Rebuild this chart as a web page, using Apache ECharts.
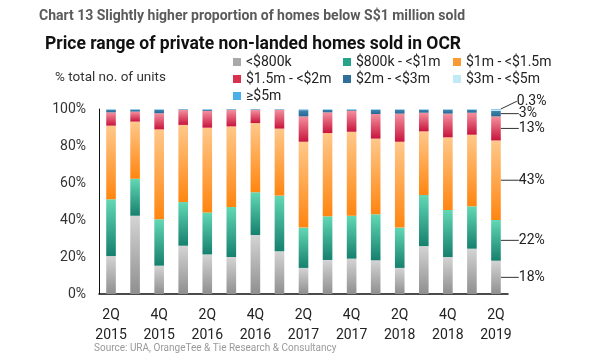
<!DOCTYPE html>
<html><head><meta charset="utf-8">
<script src="https://cdn.jsdelivr.net/npm/echarts@6/dist/echarts.min.js"></script>
<style>html,body{margin:0;padding:0;background:#fff}#c{width:600px;height:360px}</style>
</head><body><div id="c"></div>
<script>
const categories = ['2Q 2015','3Q 2015','4Q 2015','1Q 2016','2Q 2016','3Q 2016','4Q 2016','1Q 2017','2Q 2017','3Q 2017','4Q 2017','1Q 2018','2Q 2018','3Q 2018','4Q 2018','1Q 2019','2Q 2019'];
const below800k   = [20.5,42.3,15.3,26.1,21.4,20.0,31.9,23.1,14.1,18.4,19.1,18.2,14.1,25.9,20.0,24.5,18];
const k800to1m    = [30.7,20.0,25.1,23.6,22.7,27.0,23.1,30.1,21.8,23.6,23.2,24.9,21.8,27.6,25.4,22.9,22];
const m1to1_5     = [39.8,30.9,48.6,41.7,45.8,43.6,37.4,36.2,46.4,45.0,45.4,40.9,46.4,34.4,39.3,38.7,43];
const m1_5to2     = [7.2,5.4,8.7,8.1,9.1,8.9,7.1,10.2,13.7,11.2,11.4,13.3,15.2,10.1,12.8,11.9,13];
const m2to3       = [1.3,1.0,1.8,0.3,0.7,0.3,0.3,0.2,3.4,1.3,0.5,2.2,2.0,1.5,2.0,1.5,3];
const m3to5       = [0.3,0.2,0.3,0.1,0.2,0.1,0.1,0.1,0.4,0.3,0.2,0.3,0.3,0.3,0.3,0.3,0.7];
const m5plus      = [0.2,0.2,0.2,0.1,0.1,0.1,0.1,0.1,0.2,0.2,0.2,0.2,0.2,0.2,0.2,0.2,0.3];
const lastLabels  = ['18%','22%','43%','13%','3%',null,'0.3%'];
const seriesNames = ['<$800k','$800k - <$1m','$1m - <$1.5m','$1.5m - <$2m','$2m - <$3m','$3m - <$5m','≥$5m'];
const yTicks = [0,20,40,60,80,100];

const allData = [below800k,k800to1m,m1to1_5,m1_5to2,m2to3,m3to5,m5plus];
const solid = ['#a9a9a9','#27a387','#f99a35','#d9304d','#2f6f98','#c2eaf6','#4aaee8'];
function grad(top, bottom){ return new echarts.graphic.LinearGradient(0,0,0,1,[{offset:0,color:top},{offset:1,color:bottom}]); }
const fills = [
  grad('#d4d4d4','#8f8f8f'),
  grad('#62d8b4','#16806e'),
  grad('#ffc88a','#ff8510'),
  grad('#f4909f','#c8143c'),
  grad('#3f86b0','#2a6690'),
  grad('#d4f1f9','#b8e5f2'),
  grad('#5cb8ee','#3aa0e0')
];
const last = categories.length - 1;
const series = allData.map((arr, si) => ({
  name: seriesNames[si],
  type: 'bar',
  stack: 'total',
  barWidth: '40%',
  itemStyle: { color: fills[si] },
  data: arr.map((v, i) => {
    if (i === last && lastLabels[si]) {
      return { value: v, label: { show: true, position: 'right', distance: 0, formatter: lastLabels[si],
        color: '#222', fontSize: 14, fontFamily: 'Roboto' } };
    }
    return v;
  }),
  labelLine: { show: true, lineStyle: { color: '#333', width: 1 } },
  labelLayout: function (p) {
    if (p.dataIndex !== last) return {};
    if (si === 6) return { dx: 16, dy: -8 };
    return { dx: 18 };
  }
}));

const legendText = { fontSize: 14, color: '#222', fontFamily: 'Roboto' };
function legendCol(names, left) {
  return {
    orient: 'vertical', left: left, top: 55, itemWidth: 8, itemHeight: 8, itemGap: 3,
    icon: 'rect', textStyle: legendText, selectedMode: false, padding: 0,
    data: names.map(n => ({ name: n, itemStyle: { color: solid[seriesNames.indexOf(n)] } }))
  };
}

const chart = echarts.init(document.getElementById('c'), null, { renderer: 'canvas' });
chart.setOption({
  animation: false,
  backgroundColor: '#fff',
  title: [
    { text: 'Chart 13 Slightly higher proportion of homes below S$1 million sold', left: 39, top: 9, padding: 0,
      textStyle: { fontFamily: 'Liberation Sans Narrow, Roboto', fontWeight: 'bold', fontSize: 14, color: '#5a5a5a' } },
    { text: 'Price range of private non-landed homes sold in OCR', left: 45, top: 36, padding: 0,
      textStyle: { fontFamily: 'Roboto', fontWeight: 'bold', fontSize: 17.5, color: '#111' } },
    { text: '% total no. of units', left: 55, top: 71, padding: 0,
      textStyle: { fontFamily: 'Roboto', fontWeight: 'normal', fontSize: 13.5, color: '#333' } },
    { text: 'Source: URA, OrangeTee & Tie Research & Consultancy', left: 94, top: 343, padding: 0,
      textStyle: { fontFamily: 'Roboto', fontWeight: 'normal', fontSize: 10, color: '#9a9a9a' } }
  ],
  legend: [
    legendCol([seriesNames[0], seriesNames[3], seriesNames[6]], 233),
    legendCol([seriesNames[1], seriesNames[4]], 343),
    legendCol([seriesNames[2], seriesNames[5]], 453)
  ],
  grid: { left: 99, right: 92, top: 109, bottom: 66 },
  xAxis: {
    type: 'category', data: categories,
    axisLine: { lineStyle: { color: '#111', width: 1.5 } },
    axisTick: { show: false },
    axisLabel: { interval: 1, margin: 11, fontSize: 14, lineHeight: 20, color: '#222', fontFamily: 'Roboto',
      formatter: v => v.replace(' ', '\n') }
  },
  yAxis: {
    type: 'value', min: yTicks[0], max: yTicks[yTicks.length - 1], interval: 20,
    axisLine: { show: true, lineStyle: { color: '#111', width: 1 } },
    axisTick: { show: false },
    splitLine: { show: false },
    axisLabel: { margin: 13, fontSize: 14, color: '#333', fontFamily: 'Roboto', formatter: '{value}%' }
  },
  series: series
});
</script></body></html>
